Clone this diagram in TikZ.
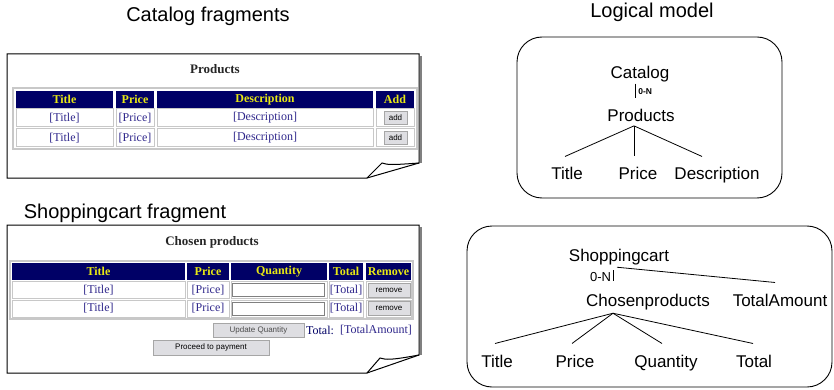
\documentclass[tikz,border=0pt]{standalone}
\usepackage{fontspec}
\setmainfont{Liberation Serif}
\setsansfont{Liberation Sans}
\usetikzlibrary{positioning}

\definecolor{hdrblue}{RGB}{0,0,102}
\definecolor{hdryellow}{RGB}{232,232,20}
\definecolor{cellblue}{RGB}{48,40,140}
\definecolor{rulegray}{RGB}{200,200,200}
\definecolor{btngray}{RGB}{222,222,226}

\begin{document}
\begin{tikzpicture}[x=1pt, y=-1pt,
        heading/.style={font=\sffamily\fontsize{20}{24}\selectfont, anchor=base, inner sep=0pt},
        model/.style={font=\sffamily\fontsize{17}{20}\selectfont, inner sep=1pt, anchor=base},
        card/.style={draw, line width=0.9pt, rounded corners=25pt},
        paper/.style={draw, line width=1pt, fill=white},
        pagetitle/.style={font=\bfseries\fontsize{13}{15}\selectfont, text=black!85},
        hdr/.style={fill=hdrblue, text=hdryellow, inner sep=0pt, font=\bfseries\fontsize{12}{14}\selectfont},
        cell/.style={draw=rulegray, line width=1pt, text=cellblue, inner sep=0pt, font=\fontsize{12}{14}\selectfont},
        btn/.style={fill=btngray, draw=gray!70, line width=0.8pt, inner sep=0pt, font=\sffamily\fontsize{8}{9}\selectfont},
        inbox/.style={draw=gray, fill=white, line width=1pt, inner sep=0pt},
        branch/.style={line width=0.8pt}
    ]
        \useasboundingbox (0,0) rectangle (834,390);

        % headings
        \node[heading] (hcat) at (208,22) {Catalog fragments};
        \node[heading] (hlog) at (652,18) {Logical model};
        \node[heading] (hshop) at (125,218) {Shoppingcart fragment};

        % catalog page
        \draw[gray, line width=1.5pt] (421,56) -- (421,163);
        \draw[paper] (7,54) -- (419,54) -- (419,163) -- (367,178) -- (7,178) -- cycle;
        \draw[line width=1pt] (367,178) -- (382,163) .. controls (388,165) and (392,165) .. (419,163);
        \node[pagetitle] (ptitle) at (215,69) {Products};
        \draw[rulegray, line width=1.5pt] (13,88) rectangle (417,149);
        \node[hdr, minimum width=97, minimum height=17] (ch1) at (64.5,99.5) {Title};
        \node[hdr, minimum width=38, minimum height=17] (ch2) at (135,99.5) {Price};
        \node[hdr, minimum width=216, minimum height=17] (ch3) at (265,99.5) {Description};
        \node[hdr, minimum width=38, minimum height=17] (ch4) at (395,99.5) {Add};
        \foreach \r/\y in {1/118, 2/138} {
            \node[cell, minimum width=97, minimum height=18] (c\r a) at (64.5,\y) {[Title]};
            \node[cell, minimum width=38, minimum height=18] (c\r b) at (135,\y) {[Price]};
            \node[cell, minimum width=216, minimum height=18] (c\r c) at (265,\y) {[Description]};
            \node[cell, minimum width=38, minimum height=18] (c\r d) at (395,\y) {};
            \node[btn, minimum width=23, minimum height=13] (add\r) at (395.5,\y) {add};
        }

        % shoppingcart page
        \draw[gray, line width=1.5pt] (421,227) -- (421,355);
        \draw[paper] (7,225) -- (419,225) -- (419,355) -- (367,373) -- (7,373) -- cycle;
        \draw[line width=1pt] (367,373) -- (380,358) .. controls (386,360) and (392,360) .. (419,355);
        \node[pagetitle] (stitle) at (212,242) {Chosen products};
        \draw[rulegray, line width=1.5pt] (10,261) rectangle (413,319);
        \node[hdr, minimum width=173, minimum height=17] (sh1) at (98.5,271.5) {Title};
        \node[hdr, minimum width=42, minimum height=17] (sh2) at (208,271.5) {Price};
        \node[hdr, minimum width=96, minimum height=17] (sh3) at (279,271.5) {Quantity};
        \node[hdr, minimum width=34, minimum height=17] (sh4) at (346,271.5) {Total};
        \node[hdr, minimum width=45, minimum height=17] (sh5) at (388.5,271.5) {Remove};
        \foreach \r/\y in {1/290, 2/308.5} {
            \node[cell, minimum width=173, minimum height=17] (s\r a) at (98.5,\y) {[Title]};
            \node[cell, minimum width=42, minimum height=17] (s\r b) at (208,\y) {[Price]};
            \node[cell, minimum width=96, minimum height=17] (s\r c) at (279,\y) {};
            \node[inbox, minimum width=92, minimum height=13] (qty\r) at (278.5,\y) {};
            \node[cell, minimum width=34, minimum height=17] (s\r d) at (346,\y) {[Total]};
            \node[cell, minimum width=45, minimum height=17] (s\r e) at (388.5,\y) {};
            \node[btn, minimum width=42, minimum height=14] (rem\r) at (389,\y) {remove};
        }
        \node[btn, minimum width=91, minimum height=14, text=gray!60!black] (upd) at (258.5,330) {Update Quantity};
        \node[cell, draw=none, text=hdrblue] (tot) at (320,330) {Total:};
        \node[cell, draw=none] (tamount) at (376,330) {[TotalAmount]};
        \node[btn, minimum width=116, minimum height=15] (pay) at (211,347.5) {Proceed to payment};

        % logical model: catalog
        \draw[card] (517,37) rectangle (782,198);
        \node[model] (cat) at (640,79) {Catalog};
        \node[model] (prod) at (641,122) {Products};
        \node[model] (mtitle) at (567,179) {Title};
        \node[model] (mprice) at (638,179) {Price};
        \node[model] (mdesc) at (717,179) {Description};
        \draw[branch] ([xshift=-5pt]cat.south) -- ([xshift=-6pt,yshift=10pt]prod.north)
            node[pos=0.55, right, inner sep=3pt, font=\sffamily\bfseries\fontsize{8.5}{10}\selectfont] {0-N};
        \coordinate (prodfork) at ([xshift=-7pt,yshift=-2.5pt]prod.south);
        \draw[branch] (prodfork) -- ([xshift=-2pt,yshift=9pt]mtitle.north);
        \draw[branch] (prodfork) -- ([xshift=-4pt,yshift=9pt]mprice.north);
        \draw[branch] (prodfork) -- ([xshift=-15pt,yshift=9pt]mdesc.north);

        % logical model: shoppingcart
        \draw[card] (467,226) rectangle (832,387);
        \node[model] (scart) at (619,261) {Shoppingcart};
        \node[model] (chp) at (648,306) {Chosenproducts};
        \node[model] (tamt) at (780,306) {TotalAmount};
        \node[model] (btitle) at (497,367) {Title};
        \node[model] (bprice) at (575,367) {Price};
        \node[model] (bqty) at (666,367) {Quantity};
        \node[model] (btotal) at (754,367) {Total};
        \draw[branch] ([xshift=-2pt,yshift=-1.5pt]scart.south) -- ([xshift=-5pt,yshift=10pt]tamt.north);
        \draw[branch] ([xshift=-6pt,yshift=-4.5pt]scart.south) -- ([xshift=-35pt,yshift=11pt]chp.north)
            node[pos=0.6, left, inner sep=1.5pt, font=\sffamily\fontsize{13}{15}\selectfont] {0-N};
        \coordinate (chpfork) at ([xshift=-35pt,yshift=-2.5pt]chp.south);
        \draw[branch] (chpfork) -- ([xshift=-2pt,yshift=10pt]btitle.north);
        \draw[branch] (chpfork) -- ([xshift=-3pt,yshift=10pt]bprice.north);
        \draw[branch] (chpfork) -- ([xshift=-4pt,yshift=10pt]bqty.north);
        \draw[branch] (chpfork) -- ([xshift=-1pt,yshift=10pt]btotal.north);
    \end{tikzpicture}
\end{document}
